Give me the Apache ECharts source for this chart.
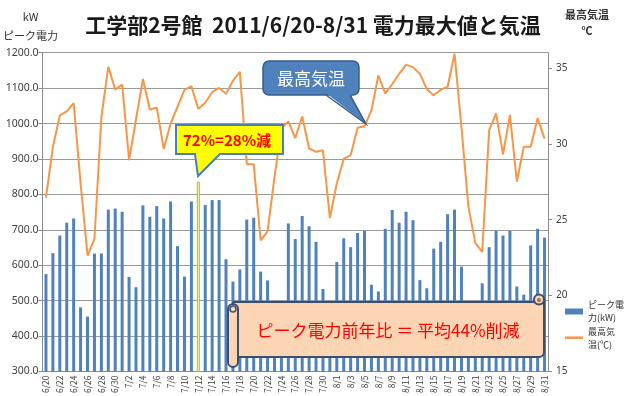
<!DOCTYPE html>
<html><head><meta charset="utf-8">
<script src="https://cdn.jsdelivr.net/npm/echarts@6/dist/echarts.min.js"></script>
<style>html,body{margin:0;padding:0;background:#fff}#c{width:626px;height:396px}</style>
</head><body><div id="c"></div>
<script>
const dates = ['6/20','6/21','6/22','6/23','6/24','6/25','6/26','6/27','6/28','6/29','6/30',
'7/1','7/2','7/3','7/4','7/5','7/6','7/7','7/8','7/9','7/10','7/11','7/12','7/13','7/14','7/15','7/16','7/17','7/18','7/19','7/20','7/21','7/22','7/23','7/24','7/25','7/26','7/27','7/28','7/29','7/30','7/31',
'8/1','8/2','8/3','8/4','8/5','8/6','8/7','8/8','8/9','8/10','8/11','8/12','8/13','8/14','8/15','8/16','8/17','8/18','8/19','8/20','8/21','8/22','8/23','8/24','8/25','8/26','8/27','8/28','8/29','8/30','8/31'];

const peakPower = [575,634,684,720,732,481,455,633,633,757,760,
751,567,538,769,737,767,732,780,654,568,780,836,770,784,784,617,554,588,729,734,582,557,470,460,718,674,739,710,666,533,480,
609,676,651,691,697,545,526,703,756,720,751,727,558,535,647,666,744,757,596,470,455,549,651,697,684,697,540,517,656,703,678];

const maxTemp = [26.45,29.8,31.87,32.13,32.67,27.4,22.64,23.73,31.75,35.07,33.57,
33.9,28.92,31.6,34.27,32.24,32.4,29.66,31.32,32.44,33.55,33.8,32.3,32.7,33.4,33.68,33.3,34.15,34.74,28.66,28.66,23.64,24.23,27.8,31.0,31.47,30.38,31.8,29.69,29.47,29.57,25.1,
27.4,29.0,29.25,31.06,31.15,32.2,34.5,33.3,33.94,34.6,35.2,35.05,34.6,33.6,33.2,33.55,33.76,35.94,31.1,25.86,23.47,22.88,30.88,32.0,29.3,31.9,27.5,29.8,29.8,31.69,30.34];

const powerTicks = [300,400,500,600,700,800,900,1000,1100,1200];
const tempTicks = [15,20,25,30,35];
const highlightDate = '7/12';

const titleText = '工学部2号館  2011/6/20-8/31 電力最大値と気温';
const powerName = 'ピーク電力(kW)';
const tempName = '最高気温(℃)';
const calloutRatio = '72%=28%減';
const calloutTemp = '最高気温';
const bannerText = 'ピーク電力前年比 ＝ 平均44%削減';

const FONT = '"Noto Sans CJK JP", "Noto Sans", sans-serif';
const AXIS_GREY = '#8c8c8c';

const barData = peakPower.map((v, i) => dates[i] === highlightDate
  ? {value: v, itemStyle: {color: '#ffff99', borderColor: '#9bbb59', borderWidth: 1}}
  : v);

const chart = echarts.init(document.getElementById('c'), null, {renderer: 'canvas'});
chart.setOption({
  animation: false,
  backgroundColor: '#ffffff',
  textStyle: {fontFamily: FONT},
  title: {
    text: titleText, left: 'center', top: 12, padding: 0,
    textStyle: {fontSize: 21, fontWeight: 'bold', color: '#1a1a1a', fontFamily: FONT, lineHeight: 26}
  },
  grid: {left: 42, right: 78, top: 52.7, bottom: 23.3, containLabel: false},
  legend: [
    {data: [powerName], orient: 'vertical', left: 565, top: 292.5, padding: 0,
     itemWidth: 18, itemHeight: 6, icon: 'rect',
     formatter: () => 'ピーク電\n力(kW)',
     textStyle: {fontSize: 9, lineHeight: 13, color: '#333', padding: [12, 0, 0, 0], fontFamily: FONT}},
    {data: [{name: tempName, icon: 'rect', itemStyle: {color: '#f79646'}}], orient: 'vertical', left: 565, top: 318.7, padding: 0,
     itemWidth: 18, itemHeight: 2.5,
     formatter: () => '最高気\n温(℃)',
     textStyle: {fontSize: 9, lineHeight: 13, color: '#333', padding: [12, 0, 0, 0], fontFamily: FONT}}
  ],
  xAxis: {
    type: 'category', data: dates, boundaryGap: true,
    axisLine: {lineStyle: {color: AXIS_GREY}},
    axisTick: {show: false},
    axisLabel: {interval: 1, rotate: 90, fontSize: 8.5, color: '#404040', margin: 4, fontFamily: FONT}
  },
  yAxis: [
    {
      type: 'value', min: 300, max: 1200, interval: 100,
      name: 'kW\nピーク電力', nameLocation: 'end', nameGap: 7,
      nameTextStyle: {fontSize: 11, color: '#333', lineHeight: 19, align: 'center', verticalAlign: 'bottom', padding: [0, 24, 0, 0]},
      axisLine: {show: true, lineStyle: {color: AXIS_GREY}},
      axisTick: {show: true, length: 4, lineStyle: {color: AXIS_GREY}},
      axisLabel: {formatter: v => v.toFixed(1), fontSize: 10.5, color: '#404040', margin: 4, fontFamily: '"Noto Sans", sans-serif'},
      splitLine: {show: true, lineStyle: {color: '#9a9a9a', width: 1}}
    },
    {
      type: 'value', min: 15, max: 36, interval: 5, position: 'right',
      name: '最高気温\n℃', nameLocation: 'end', nameGap: 14,
      nameTextStyle: {fontSize: 11, fontWeight: 'bold', color: '#333', lineHeight: 16, align: 'center', verticalAlign: 'bottom', padding: [0, 0, 0, 78]},
      axisLine: {show: true, lineStyle: {color: AXIS_GREY}},
      axisTick: {show: true, length: 4, lineStyle: {color: AXIS_GREY}, customValues: tempTicks},
      axisLabel: {fontSize: 10, color: '#404040', margin: 8, customValues: tempTicks, fontFamily: '"Noto Sans", sans-serif'},
      splitLine: {show: false}
    }
  ],
  series: [
    {name: powerName, type: 'bar', yAxisIndex: 0, data: barData, barWidth: 3,
     itemStyle: {color: '#4f81bd'}, z: 2},
    {name: tempName, type: 'line', yAxisIndex: 1, data: maxTemp, symbol: 'none',
     lineStyle: {color: '#f79646', width: 2}, itemStyle: {color: '#f79646'}, z: 3}
  ],
  graphic: [
    // yellow callout
    {type: 'polygon', z: 100, shape: {points: [[176,125],[283,125],[283,154],[220,154],[198,176],[195,154],[176,154]]},
     style: {fill: '#ffff00', stroke: '#4a7ebb', lineWidth: 2}},
    {type: 'text', z: 101, style: {text: calloutRatio, x: 227, y: 140, align: 'center', verticalAlign: 'middle',
     textAlign: 'center', textVerticalAlign: 'middle', fill: '#ff0000', font: 'bold 15px ' + FONT}},
    // blue callout
    {type: 'rect', z: 100, shape: {x: 263, y: 61, width: 96, height: 34, r: 6},
     style: {fill: '#4f81bd', stroke: '#385d8a', lineWidth: 1.5}},
    {type: 'polygon', z: 101, shape: {points: [[326,93],[350,93],[366,124]]}, style: {fill: '#4f81bd'}},
    {type: 'polyline', z: 102, shape: {points: [[326,95],[366,124],[350,95]]}, style: {stroke: '#385d8a', lineWidth: 1.5, fill: null}},
    {type: 'text', z: 103, style: {text: calloutTemp, x: 311, y: 79, align: 'center', verticalAlign: 'middle',
     textAlign: 'center', textVerticalAlign: 'middle', fill: '#ffffff', font: '17px ' + FONT}},
    // scroll banner
    {type: 'rect', z: 100, shape: {x: 233, y: 302, width: 311, height: 55, r: [0, 0, 5, 0]},
     style: {fill: '#fcd5b4', stroke: '#3b4f6e', lineWidth: 2}},
    {type: 'circle', z: 101, shape: {cx: 539, cy: 299.5, r: 5}, style: {fill: '#fcd5b4', stroke: '#3b4f6e', lineWidth: 2}},
    {type: 'circle', z: 102, shape: {cx: 539, cy: 300, r: 2}, style: {fill: '#8a7a70'}},
    {type: 'rect', z: 101, shape: {x: 228, y: 304, width: 10, height: 63, r: 5},
     style: {fill: '#fcd5b4', stroke: '#3b4f6e', lineWidth: 2}},
    {type: 'circle', z: 102, shape: {cx: 233, cy: 309, r: 3}, style: {fill: '#fcd5b4', stroke: '#3b4f6e', lineWidth: 1.5}},
    {type: 'text', z: 103, style: {text: bannerText, x: 388, y: 331, align: 'center', verticalAlign: 'middle',
     textAlign: 'center', textVerticalAlign: 'middle', fill: '#ff0000', font: '17px ' + FONT}}
  ]
});
</script></body></html>
